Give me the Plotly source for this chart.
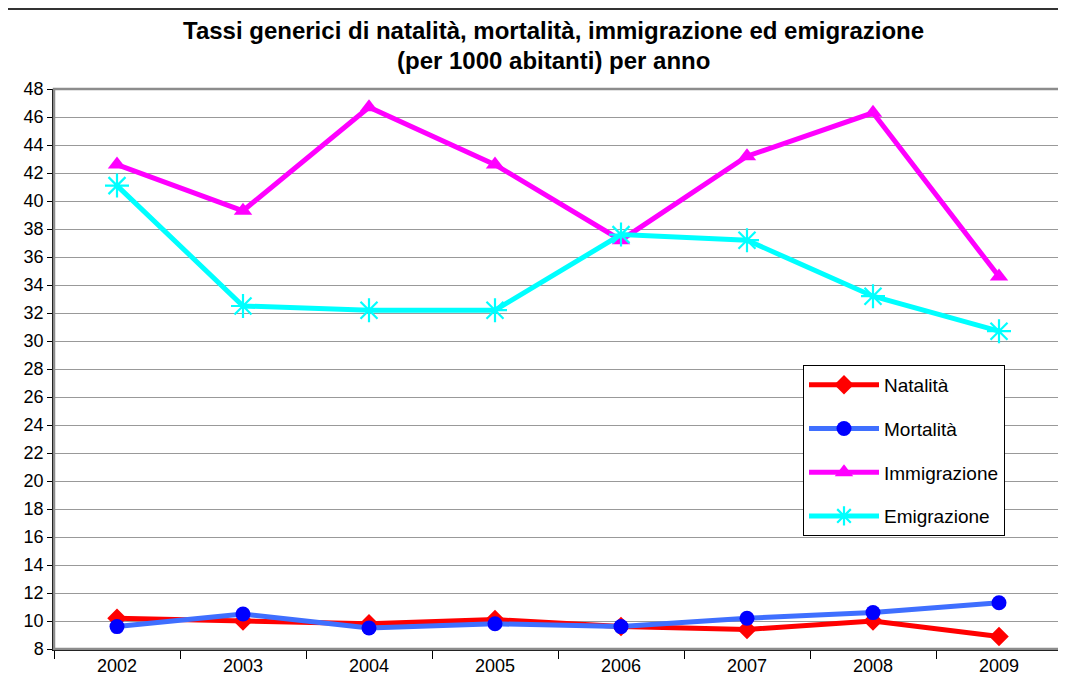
import plotly.graph_objects as go

anni = ["2002", "2003", "2004", "2005", "2006", "2007", "2008", "2009"]
natalita = [10.2, 10.0, 9.8, 10.1, 9.6, 9.4, 10.0, 8.9]
mortalita = [9.6, 10.5, 9.5, 9.8, 9.6, 10.2, 10.6, 11.3]
immigrazione = [42.6, 39.3, 46.7, 42.6, 37.2, 43.2, 46.3, 34.6]
emigrazione = [41.1, 32.5, 32.2, 32.2, 37.6, 37.2, 33.2, 30.7]

OFF = 8  # page body margin
W, H = 1066 - OFF, 691 - OFF
L, R, T, B = 54 - OFF, 1062 - OFF, 89 - OFF, 649 - OFF

fig = go.Figure()

def add(name, vals, color, mcolor, symbol, msize, lw=0):
    fig.add_trace(go.Scatter(
        x=anni, y=vals, name=name, mode="lines+markers",
        line=dict(color=color, width=5),
        marker=dict(symbol=symbol, size=msize, color=mcolor,
                    line=dict(color=mcolor, width=lw)),
        legendgroup=name,
    ))

add("Natalità", natalita, "#FF0000", "#FF0000", "diamond", 15)
add("Mortalità", mortalita, "#3F6FFF", "#0000FF", "circle", 15)
add("Immigrazione", immigrazione, "#FF00FF", "#FF00FF", "triangle-up", 16)
add("Emigrazione", emigrazione, "#00FFFF", "#00FFFF", "asterisk-open", 20, 2.2)

def px(x):
    return (x - OFF - L) / (R - L)

def py(y):
    return (B - (y - OFF)) / (B - T)

shapes = [
    dict(type="rect", xref="paper", yref="paper", x0=0, y0=0, x1=1, y1=1,
         line=dict(color="#8C8C8C", width=2.5), layer="above"),
    dict(type="rect", xref="paper", yref="paper", x0=px(7), y0=py(700),
         x1=px(1075), y1=py(9), line=dict(color="#333333", width=2)),
]

annotations = [
    dict(text="<b>Tassi generici di natalità, mortalità, immigrazione ed emigrazione</b>",
         xref="paper", yref="paper", x=px(553), y=py(31), showarrow=False,
         xanchor="center", yanchor="middle",
         font=dict(family="Liberation Sans", size=24, color="black")),
    dict(text="<b>(per 1000 abitanti) per anno</b>",
         xref="paper", yref="paper", x=px(553), y=py(61), showarrow=False,
         xanchor="center", yanchor="middle",
         font=dict(family="Liberation Sans", size=24, color="black")),
]

fig.update_layout(
    width=W, height=H,
    margin=dict(l=L, r=W - R, t=T, b=H - B, pad=0),
    paper_bgcolor="white", plot_bgcolor="white",
    font=dict(family="Liberation Sans", size=18, color="black"),
    shapes=shapes, annotations=annotations,
    showlegend=True,
    legend=dict(
        x=px(803), y=py(365), xanchor="left", yanchor="top",
        bgcolor="white", bordercolor="black", borderwidth=1,
        font=dict(family="Liberation Sans", size=19, color="black"),
        traceorder="grouped", tracegroupgap=16,
        itemwidth=70,
    ),
    xaxis=dict(
        type="category", tickson="boundaries", ticks="outside", ticklen=8,
        tickcolor="black", showline=True, linecolor="black", linewidth=1.5,
        showgrid=False, tickfont=dict(size=18), range=[-0.5, 7.5],
    ),
    yaxis=dict(
        range=[8, 48], dtick=2, tick0=8, ticks="outside", ticklen=5,
        tickcolor="black", showline=True, linecolor="black", linewidth=1.5,
        showgrid=True, gridcolor="#999999", gridwidth=1.3,
        tickfont=dict(size=18), zeroline=False,
    ),
)

fig.write_html("out.html")
